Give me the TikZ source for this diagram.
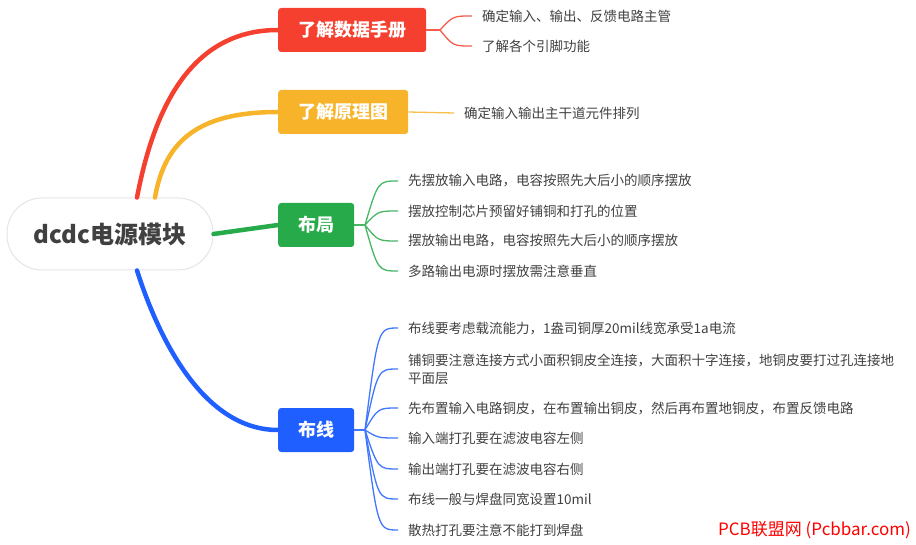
\documentclass[tikz,border=0pt]{standalone}
\usepackage{fontspec}
\setmainfont{Noto Sans CJK SC}
\usetikzlibrary{positioning,calc}
\definecolor{cred}{RGB}{245,64,48}
\definecolor{corange}{RGB}{247,180,42}
\definecolor{cgreen}{RGB}{38,170,74}
\definecolor{cblue}{RGB}{31,94,255}
\definecolor{ink}{RGB}{64,64,64}
\tikzset{
  root/.style={rectangle, rounded corners=35pt, draw=black!10, line width=1pt, fill=white,
               minimum width=206pt, minimum height=72pt, text=ink, font=\bfseries\fontsize{24}{28}\selectfont},
  topic/.style={rectangle, rounded corners=3pt, anchor=west, minimum height=44pt, inner xsep=20pt,
                text=white, font=\bfseries\fontsize{18}{20}\selectfont},
  item/.style={anchor=west, inner sep=0pt, align=left, text=ink, font=\fontsize{13.5}{18}\selectfont},
  trunk/.style={line width=4.5pt, draw=#1, line cap=round},
  twig/.style={line width=1.3pt, draw=#1!85},
  wm/.style={text=red, font=\fontsize{17}{20}\selectfont, inner sep=0pt, anchor=east},
}

\begin{document}
\begin{tikzpicture}[x=1pt,y=-1pt]
\useasboundingbox (0,0) rectangle (916,545);
% centre
\node[root] (root) at (110,234) {dcdc电源模块};
% main topics
\node[topic, fill=cred] (data) at (278,30) {了解数据手册};
\node[topic, fill=corange] (sch) at (278,112) {了解原理图};
\node[topic, fill=cgreen] (layout) at (278,225) {布局};
\node[topic, fill=cblue] (route) at (278,430) {布线};
\draw[trunk=cred] ([xshift=27pt]root.north) .. controls +(15,-78) and +(-93,0) .. (data.west);
\draw[trunk=corange] ([xshift=45pt]root.north) .. controls +(10,-58) and +(-78,0) .. (sch.west);
\draw[trunk=cgreen] (root.east) -- (layout.west);
\draw[trunk=cblue] ([xshift=27pt]root.south) .. controls +(23,72) and +(-73,0) .. (route.west);

% data sheet
\node[item] (d1) at (482,16) {确定输入、输出、反馈电路主管};
\node[item] (d2) at (482,46) {了解各个引脚功能};
\coordinate (fk1) at (440,30);
\draw[twig=cred] (data.east) -- (fk1);
\foreach \n in {d1,d2}
  \draw[twig=cred] (fk1) .. controls ([xshift=-29pt]\n.west) .. ([xshift=-10pt]\n.west);

% schematic
\node[item] (s1) at (464,113) {确定输入输出主干道元件排列};
\draw[twig=corange] (sch.east) -- ([xshift=-10pt]s1.west);

% layout
\node[item] (l1) at (408,181) {先摆放输入电路，电容按照先大后小的顺序摆放};
\node[item] (l2) at (408,211) {摆放控制芯片预留好铺铜和打孔的位置};
\node[item] (l3) at (408,241) {摆放输出电路，电容按照先大后小的顺序摆放};
\node[item] (l4) at (408,271) {多路输出电源时摆放需注意垂直};
\coordinate (fk3) at (365,225);
\draw[twig=cgreen] (layout.east) -- (fk3);
\foreach \n in {l1,l2,l3,l4}
  \draw[twig=cgreen] (fk3) .. controls ([xshift=-30pt]\n.west) .. ([xshift=-10pt]\n.west);

% routing
\node[item] (r1) at (408,328) {布线要考虑载流能力，1盎司铜厚20mil线宽承受1a电流};
\node[item] (r2) at (408,369) {铺铜要注意连接方式小面积铜皮全连接，大面积十字连接，地铜皮要打过孔连接地\\平面层};
\node[item] (r3) at (408,408) {先布置输入电路铜皮，在布置输出铜皮，然后再布置地铜皮，布置反馈电路};
\node[item] (r4) at (408,438) {输入端打孔要在滤波电容左侧};
\node[item] (r5) at (408,469) {输出端打孔要在滤波电容右侧};
\node[item] (r6) at (408,499) {布线一般与焊盘同宽设置10mil};
\node[item] (r7) at (408,530) {散热打孔要注意不能打到焊盘};
\coordinate (fk4) at (365,430);
\draw[twig=cblue] (route.east) -- (fk4);
\foreach \n in {r1,r2,r3,r4,r5,r6,r7}
  \draw[twig=cblue] (fk4) .. controls ([xshift=-30pt]\n.west) .. ([xshift=-10pt]\n.west);

% watermark
\node[wm] (mark) at (911,530) {PCB联盟网 (Pcbbar.com)};
\end{tikzpicture}
\end{document}
